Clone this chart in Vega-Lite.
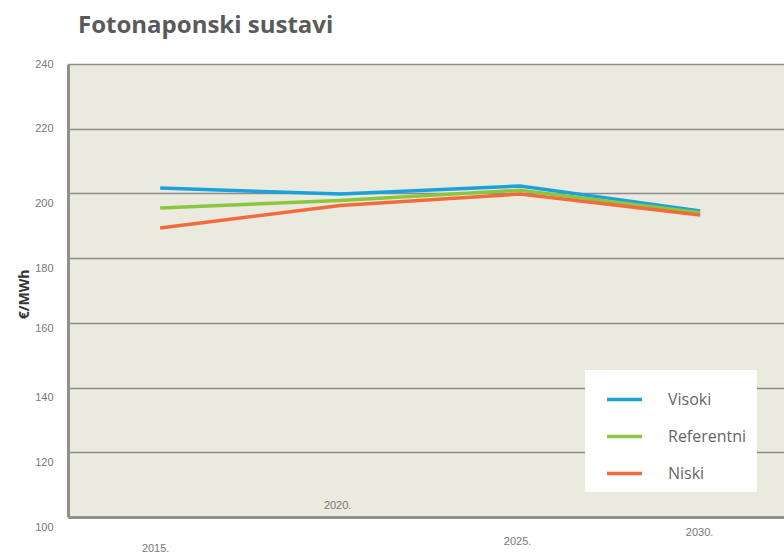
{
  "$schema": "https://vega.github.io/schema/vega-lite/v6.json",
  "width": 716,
  "height": 453,
  "autosize": {"type": "none"},
  "padding": {"left": 68, "top": 64, "right": 0, "bottom": 40},
  "background": "white",
  "title": {
    "text": "Fotonaponski sustavi",
    "anchor": "start",
    "frame": "group",
    "dx": 10,
    "offset": 20,
    "font": "Open Sans",
    "fontSize": 24,
    "fontWeight": "bold",
    "color": "#5a5a5a"
  },
  "config": {
    "view": {"fill": "#ebeadf", "stroke": null},
    "axis": {"labelFont": "Liberation Sans", "labelColor": "#777777"}
  },
  "data": {
    "values": [
      {"year": 2015, "series": "Visoki", "value": 201.7},
      {"year": 2020, "series": "Visoki", "value": 199.8},
      {"year": 2025, "series": "Visoki", "value": 202.3},
      {"year": 2030, "series": "Visoki", "value": 194.6},
      {"year": 2015, "series": "Referentni", "value": 195.5},
      {"year": 2020, "series": "Referentni", "value": 197.8},
      {"year": 2025, "series": "Referentni", "value": 201.0},
      {"year": 2030, "series": "Referentni", "value": 194.0},
      {"year": 2015, "series": "Niski", "value": 189.3},
      {"year": 2020, "series": "Niski", "value": 196.3},
      {"year": 2025, "series": "Niski", "value": 199.8},
      {"year": 2030, "series": "Niski", "value": 193.3}
    ]
  },
  "mark": {"type": "line", "strokeWidth": 3.5, "clip": true},
  "encoding": {
    "x": {
      "field": "year",
      "type": "quantitative",
      "scale": {"domain": [2012.44, 2032.33], "nice": false, "zero": false},
      "axis": {
        "title": null,
        "values": [2015, 2020, 2025, 2030],
        "labelExpr": "datum.value + '.'",
        "grid": false,
        "ticks": false,
        "domain": true,
        "domainColor": "#8f8f8f",
        "domainWidth": 3,
        "labelFontSize": 11,
        "labelBaseline": "middle",
        "labelPadding": {"expr": "datum.value == 2015 ? 31 : datum.value == 2020 ? -12 : datum.value == 2025 ? 24 : 15"},
        "labelOffset": {"expr": "datum.value == 2015 ? -5 : datum.value == 2020 ? -3 : datum.value == 2025 ? -3 : -1"}
      }
    },
    "y": {
      "field": "value",
      "type": "quantitative",
      "scale": {"domain": [100, 240], "nice": false, "zero": false},
      "axis": {
        "title": "€/MWh",
        "titleFont": "Open Sans",
        "titleFontSize": 14,
        "titleFontWeight": "bold",
        "titleColor": "#333333",
        "titleX": -44,
        "titleY": 230,
        "titleAlign": "center",
        "titleBaseline": "middle",
        "values": [100, 120, 140, 160, 180, 200, 220, 240],
        "grid": true,
        "gridColor": "#8c8c8c",
        "gridWidth": 1.6,
        "ticks": false,
        "domain": true,
        "domainColor": "#8f8f8f",
        "domainWidth": 3,
        "labelFontSize": 11,
        "labelPadding": 15,
        "labelBaseline": "middle",
        "labelOffset": {"expr": "datum.value >= 220 ? 0 : datum.value == 160 ? 6 : 10"}
      }
    },
    "color": {
      "field": "series",
      "type": "nominal",
      "scale": {"domain": ["Visoki", "Referentni", "Niski"], "range": ["#1ba1dc", "#8cc63f", "#f26b3a"]},
      "legend": {
        "title": null,
        "orient": "none",
        "legendX": 517,
        "legendY": 306,
        "fillColor": "white",
        "padding": 10,
        "symbolType": "stroke",
        "symbolSize": 1225,
        "symbolOffset": 10,
        "symbolStrokeWidth": 3.5,
        "labelFont": "Open Sans",
        "labelFontSize": 16,
        "labelColor": "#666666",
        "labelOffset": 24,
        "rowPadding": 9,
        "labelLimit": 200
      }
    }
  }
}
